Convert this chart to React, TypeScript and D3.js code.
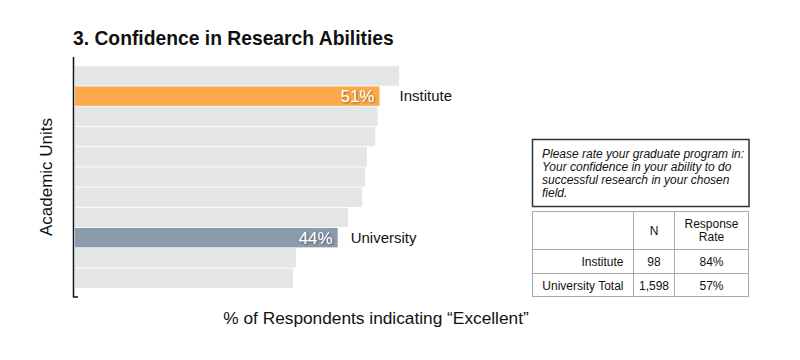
import React from "react";
import * as d3 from "d3";

const units = ["u1", "Institute", "u3", "u4", "u5", "u6", "u7", "u8", "University", "u10", "u11"];
const values = [54.3, 51, 50.7, 50.3, 48.9, 48.6, 48.1, 45.7, 44, 37, 36.5];
const highlight: Record<string, string> = { Institute: "#FBA94A", University: "#8A9BAC" };
const labelGap: Record<string, number> = { Institute: 20, University: 13 };
const questionLines = [
  "Please rate your graduate program in:",
  "Your confidence in your ability to do",
  "successful research in your chosen",
  "field.",
];
const tableHeader = ["", "N", "Response|Rate"];
const tableRows = [
  ["Institute", "98", "84%"],
  ["University Total", "1,598", "57%"],
];

export default function App() {
  const W = 800, H = 360;
  const x = d3.scaleLinear().domain([0, 100]).range([75, 672]);
  const y = d3.scaleBand().domain(units).range([66, 288]).paddingInner(0.04).paddingOuter(0.01);
  const font = "'Liberation Sans', Arial, Helvetica, sans-serif";
  const colX = [532.5, 633.5, 674.5, 748.5];
  const rowY = [211.5, 249.5, 273.5, 296.5];
  return (
    <svg width={W} height={H} style={{ position: "absolute", left: 0, top: 0, fontFamily: font }}>
      <defs>
        <filter id="ts" x="-20%" y="-20%" width="140%" height="160%">
          <feDropShadow dx="1" dy="1" stdDeviation="0.8" floodColor="#000" floodOpacity="0.45" />
        </filter>
      </defs>
      <rect width={W} height={H} fill="#fff" />
      <text x={73} y={45} fontSize={19.3} fontWeight="bold" fill="#111">3. Confidence in Research Abilities</text>
      {units.map((u, i) => {
        const c = highlight[u];
        const yy = y(u)!;
        const h = y.bandwidth();
        return (
          <g key={u}>
            <rect x={x(0)} y={yy} width={x(values[i]) - x(0)} height={h} fill={c || "#E4E5E7"} />
            {c && (
              <>
                <text x={x(values[i]) - 5} y={yy + h / 2 + 6} textAnchor="end" fontSize={17} fill="#fff" filter="url(#ts)">
                  {Math.round(values[i])}%
                </text>
                <text x={x(values[i]) + labelGap[u]} y={yy + h / 2 + 5} fontSize={15} fill="#111">{u}</text>
              </>
            )}
          </g>
        );
      })}
      <path d="M73.5,57 V297 H78" fill="none" stroke="#111" strokeWidth={1.5} />
      <text transform="translate(52,177) rotate(-90)" textAnchor="middle" fontSize={17} fill="#111">Academic Units</text>
      <text x={376} y={324} textAnchor="middle" fontSize={17.3} fill="#111">% of Respondents indicating “Excellent”</text>
      <rect x={532.5} y={139.5} width={216.5} height={67} fill="#fff" stroke="#333" strokeWidth={1.5} />
      {questionLines.map((l, i) => (
        <text key={i} x={542} y={158 + i * 13} fontSize={12} fontStyle="italic" fill="#111">{l}</text>
      ))}
      <rect x={colX[0]} y={rowY[0]} width={colX[3] - colX[0]} height={rowY[3] - rowY[0]} fill="none" stroke="#aaa" />
      {colX.slice(1, 3).map((cx, i) => (
        <line key={i} x1={cx} x2={cx} y1={rowY[0]} y2={rowY[3]} stroke="#aaa" />
      ))}
      {rowY.slice(1, 3).map((ry, i) => (
        <line key={i} x1={colX[0]} x2={colX[3]} y1={ry} y2={ry} stroke="#aaa" />
      ))}
      {tableHeader.map((hd, j) => {
        const parts = hd.split("|");
        const cx = (colX[j] + colX[j + 1]) / 2;
        const my = (rowY[0] + rowY[1]) / 2;
        return parts.map((p, k) => (
          <text key={j + "-" + k} x={cx} y={my + 4 + (k - (parts.length - 1) / 2) * 13} textAnchor="middle" fontSize={12} fill="#111">{p}</text>
        ));
      })}
      {tableRows.map((r, i) => {
        const my = (rowY[i + 1] + rowY[i + 2]) / 2;
        return r.map((v, j) => (
          <text key={i + "-" + j} x={j === 0 ? colX[1] - 10 : (colX[j] + colX[j + 1]) / 2} y={my + 4.5} textAnchor={j === 0 ? "end" : "middle"} fontSize={12} fill="#111">{v}</text>
        ));
      })}
    </svg>
  );
}
